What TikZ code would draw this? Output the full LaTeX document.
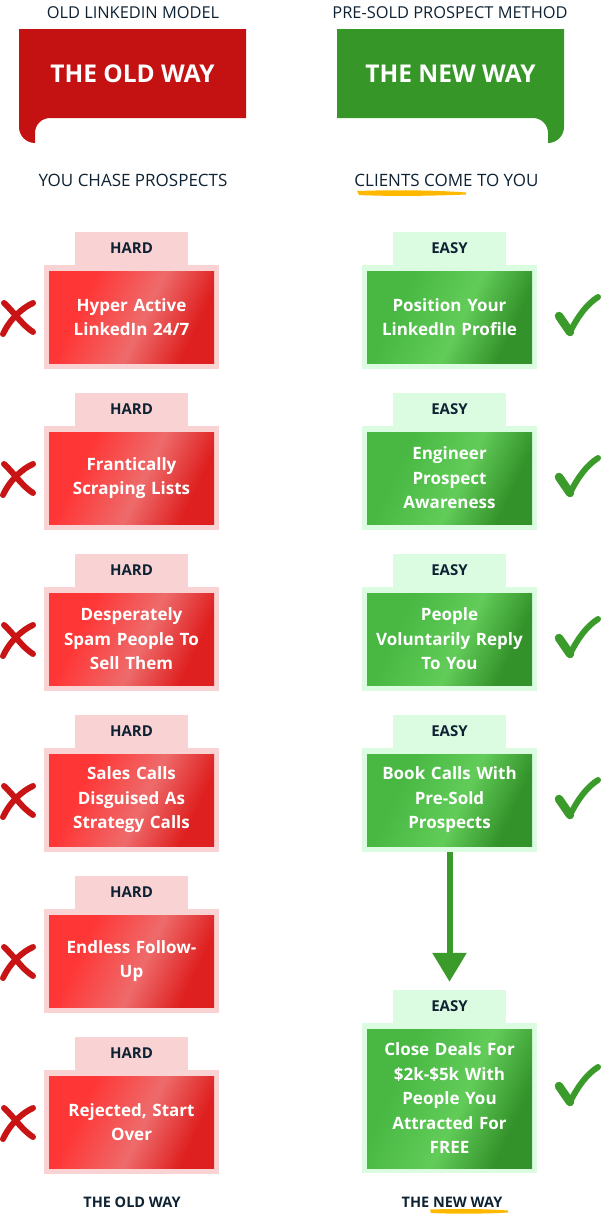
\documentclass[tikz,border=0pt]{standalone}
\usepackage{fontspec}
\setmainfont{Open Sans}
\usetikzlibrary{arrows.meta,shadings}
\definecolor{navy}{HTML}{0E2233}
\definecolor{bannerRed}{HTML}{C41111}
\definecolor{bannerGreen}{HTML}{379628}
\definecolor{pinkL}{HTML}{F9D3D3}
\definecolor{greenL}{HTML}{DCFCE2}
\definecolor{rA}{HTML}{FF3636}
\definecolor{rM}{HTML}{EE6B6B}
\definecolor{rB}{HTML}{DF2020}
\definecolor{gA}{HTML}{48B843}
\definecolor{gM}{HTML}{62CC59}
\definecolor{gB}{HTML}{33922A}
\definecolor{crossRed}{HTML}{C81414}
\definecolor{checkGreen}{HTML}{3A9A2A}
\definecolor{hiYellow}{HTML}{FFB800}
\pgfdeclarehorizontalshading{redgrad}{100bp}{color(0bp)=(rA); color(32bp)=(rA); color(54bp)=(rM); color(72bp)=(rB); color(100bp)=(rB)}
\pgfdeclarehorizontalshading{greengrad}{100bp}{color(0bp)=(gA); color(32bp)=(gA); color(54bp)=(gM); color(72bp)=(gB); color(100bp)=(gB)}
\tikzset{
  hdr/.style={text=navy, font=\fontsize{16.4}{19}\selectfont},
  subhdr/.style={text=navy, font=\fontsize{17}{20}\selectfont},
  bannertxt/.style={text=white, font=\fontsize{24.5}{28}\selectfont\bfseries},
  foot/.style={text=navy, font=\fontsize{14.5}{17}\selectfont\bfseries},
  tabbox/.style={minimum width=113pt, minimum height=33pt, inner sep=0pt, text=navy, font=\fontsize{15}{18}\selectfont\bfseries},
  tabR/.style={tabbox, fill=pinkL},
  tabG/.style={tabbox, fill=greenL},
  outerbox/.style={minimum width=175pt, minimum height=104pt, inner sep=0pt},
  outerR/.style={outerbox, fill=pinkL},
  outerG/.style={outerbox, fill=greenL},
  innerbox/.style={minimum width=165pt, minimum height=92pt, inner sep=0pt, text width=160pt, align=center, text=white, font=\fontsize{17}{24.5}\selectfont\bfseries},
  innerR/.style={innerbox, shading=redgrad, shading angle=-25},
  innerG/.style={innerbox, shading=greengrad, shading angle=-25},
  crossst/.style={draw=crossRed, line width=6pt, line cap=round},
  checkst/.style={draw=checkGreen, line cap=round},
  flowarrow/.style={draw=checkGreen, line width=6pt, -{Triangle[width=33pt,length=29pt]}},
}
\begin{document}
\begin{tikzpicture}[x=1pt,y=-1pt]
\useasboundingbox (0,0) rectangle (602,1218);
% headers
\node[hdr] (h1) at (133,13) {OLD LINKEDIN MODEL};
\node[hdr] (h2) at (450,13) {PRE-SOLD PROSPECT METHOD};
% banners
\fill[bannerRed] (19,29) -- (246,29) -- (246,118) -- (50,118) .. controls (41.7,118) and (35,124.7) .. (35,133) -- (35,143) .. controls (26.2,143) and (19,135.8) .. (19,127) -- cycle;
\fill[bannerGreen] (564,29) -- (337,29) -- (337,118) -- (533,118) .. controls (541.3,118) and (548,124.7) .. (548,133) -- (548,143) .. controls (556.8,143) and (564,135.8) .. (564,127) -- cycle;
\node[bannertxt] (oldway) at (132.5,73.5) {THE OLD WAY};
\node[bannertxt] (newway) at (450.5,73.5) {THE NEW WAY};
% subheaders
\node[subhdr] (s1) at (133,180) {YOU CHASE PROSPECTS};
\node[subhdr] (s2) at (446.5,180) {CLIENTS COME TO YOU};
\fill[hiYellow] (357,191) .. controls (400,189.5) and (440,190.5) .. (466,192.5) -- (466,194.5) .. controls (430,196) and (390,196.5) .. (359,195) -- cycle;
% left column
\node[outerR] (lo1) at (131.5,317) {};
\node[innerR] (l1) at (131.5,317) {Hyper Active\\LinkedIn 24/7};
\node[tabR] (lt1) at (131.5,248.5) {HARD};
\node[outerR] (lo2) at (131.5,478) {};
\node[innerR] (l2) at (131.5,478) {Frantically\\Scraping Lists};
\node[tabR] (lt2) at (131.5,409.5) {HARD};
\node[outerR] (lo3) at (131.5,639) {};
\node[innerR] (l3) at (131.5,639) {Desperately\\Spam People To\\Sell Them};
\node[tabR] (lt3) at (131.5,570.5) {HARD};
\node[outerR] (lo4) at (131.5,800) {};
\node[innerR] (l4) at (131.5,800) {Sales Calls\\Disguised As\\Strategy Calls};
\node[tabR] (lt4) at (131.5,731.5) {HARD};
\node[outerR] (lo5) at (131.5,961) {};
\node[innerR] (l5) at (131.5,961) {Endless Follow-\\Up};
\node[tabR] (lt5) at (131.5,892.5) {HARD};
\node[outerR] (lo6) at (131.5,1122) {};
\node[innerR] (l6) at (131.5,1122) {Rejected, Start\\Over};
\node[tabR] (lt6) at (131.5,1053.5) {HARD};
% crosses
\foreach \i in {0,...,5}{
  \begin{scope}[shift={(0,161*\i)}]
    \draw[crossst] (4,303) .. controls (14,312) and (22,325) .. (33,332);
    \draw[crossst] (33,303) .. controls (22,308) and (10,319) .. (3,334);
  \end{scope}
}
% right column
\node[outerG] (ro1) at (449.5,317) {};
\node[innerG] (r1) at (449.5,317) {Position Your\\LinkedIn Profile};
\node[tabG] (rt1) at (449.5,248.5) {EASY};
\node[outerG] (ro2) at (449.5,478) {};
\node[innerG] (r2) at (449.5,478) {Engineer\\Prospect\\Awareness};
\node[tabG] (rt2) at (449.5,409.5) {EASY};
\node[outerG] (ro3) at (449.5,639) {};
\node[innerG] (r3) at (449.5,639) {People\\Voluntarily Reply\\To You};
\node[tabG] (rt3) at (449.5,570.5) {EASY};
\node[outerG] (ro4) at (449.5,800) {};
\node[innerG] (r4) at (449.5,800) {Book Calls With\\Pre-Sold\\Prospects};
\node[tabG] (rt4) at (449.5,731.5) {EASY};
\node[outerG, minimum height=150pt] (ro5) at (449.5,1098) {};
\node[innerG, minimum height=139pt] (r5) at (449.5,1098.5) {Close Deals For\\\$2k-\$5k With\\People You\\Attracted For\\FREE};
\node[tabG] (rt5) at (449.5,1006.5) {EASY};
% arrow
\draw[flowarrow] (ro4.south) -- ([yshift=8pt]rt5.north);
% checks
\foreach \y in {0,161,322,483,770}{
  \begin{scope}[shift={(0,\y)}]
    \draw[checkst, line width=8.5pt] (559,316) -- (570,332);
    \draw[checkst, line width=6pt] (570,332) .. controls (578,316) and (587,304) .. (598,297);
  \end{scope}
}
% footers
\node[foot] (f1) at (132,1202) {THE OLD WAY};
\node[foot] (f2) at (452,1202) {THE NEW WAY};
\fill[hiYellow] (430,1209.5) .. controls (460,1208.5) and (490,1209) .. (508,1210.5) -- (508,1212.5) .. controls (480,1214) and (455,1214) .. (431,1213) -- cycle;
\end{tikzpicture}
\end{document}
